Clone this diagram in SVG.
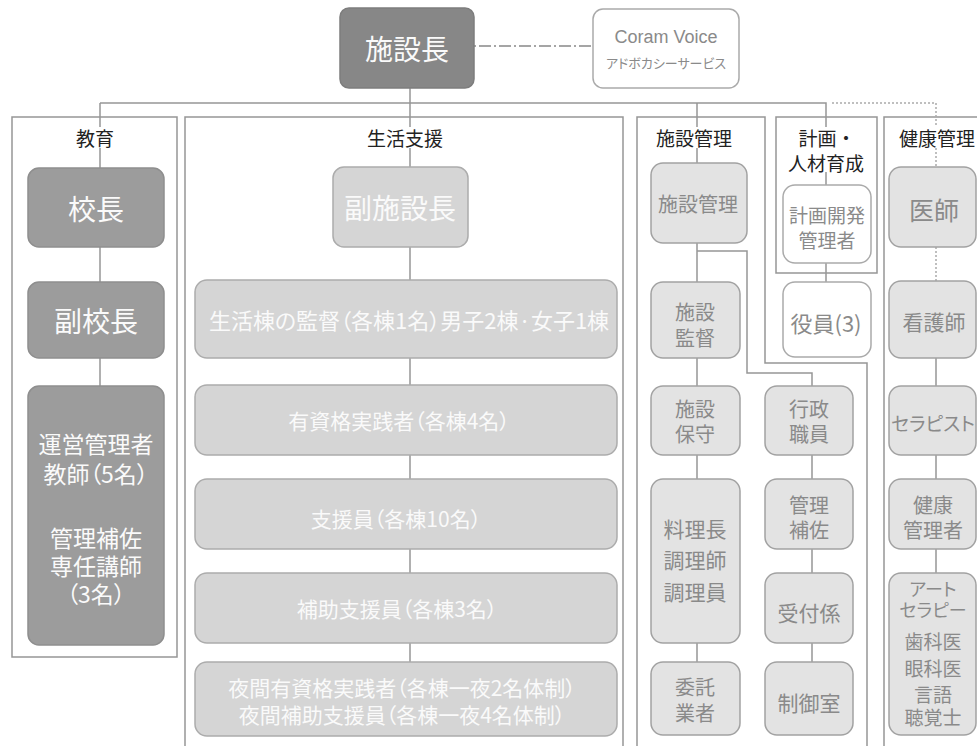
<svg xmlns="http://www.w3.org/2000/svg" width="977" height="746" viewBox="0 0 977 746">
<style>
text{font-family:"Noto Sans CJK JP","Noto Sans",sans-serif;text-anchor:middle;dominant-baseline:central;font-feature-settings:"palt"}
.ln{fill:none;stroke:#969696;stroke-width:1.5}
.dot{fill:none;stroke:#aaa;stroke-width:1.5;stroke-dasharray:2 2}
.dd{fill:none;stroke:#888;stroke-width:1.5;stroke-dasharray:2 3 12 3}
.sec{fill:none;stroke:#969696;stroke-width:1.5}
.lbl{font-size:19px;fill:#222}
.dk{fill:#878787;stroke:#7d7d7d}
.md{fill:#9c9c9c;stroke:#8e8e8e}
.lt{fill:#d5d5d5;stroke:#acacac}
.pl{fill:#e3e3e3;stroke:#a2a2a2}
.wh{fill:#fff;stroke:#aaa}
.tw{fill:#fafafa}
.tg{fill:#8a8a8a}
rect{stroke-width:1.5}
</style>
<rect x="0" y="0" width="977" height="746" fill="#fff" stroke="none"/>

<g id="sections">
  <rect class="sec" x="12" y="117" width="165" height="540"/>
  <path class="sec" d="M185 746 V117 H623 V746"/>
  <path class="sec" d="M637 746 V117 H765 V363 H867 V746"/>
  <rect class="sec" x="776" y="117" width="101" height="156"/>
  <path class="sec" d="M977 117 H884 V746"/>
  <text class="lbl" x="95" y="137">教育</text>
  <text class="lbl" x="405" y="137">生活支援</text>
  <text class="lbl" x="694" y="137">施設管理</text>
  <text class="lbl" x="827" y="137" style="font-feature-settings:normal">計画・</text>
  <text class="lbl" x="826" y="162">人材育成</text>
  <text class="lbl" x="937" y="137">健康管理</text>
</g>

<g id="connectors">
  <path class="dd" d="M474 46 H593"/>
  <path class="ln" d="M410 88 V127 M100 103 H826 V127 M100 103 V127 M697 103 V127"/>
  <path class="dot" d="M832 103 H936 V127 M936 148 V167 M936 247 V281"/>
  <path class="ln" d="M100 148 V168 M100 247 V282 M100 358 V386"/>
  <path class="ln" d="M410 148 V167 M410 247 V280 M410 358 V385 M410 455 V479 M410 549 V573 M410 643 V662"/>
  <path class="ln" d="M697 148 V163 M697 243 V282 M697 358 V386 M697 455 V479 M697 643 V662"/>
  <path class="ln" d="M697 251 H747 V373 H812 V386 M812 455 V479 M812 549 V573 M812 643 V662"/>
  <path class="ln" d="M826 172 V185 M826 263 V282"/>
  <path class="ln" d="M936 358 V386 M936 455 V479 M936 549 V573"/>
</g>

<g id="n-director">
  <rect class="dk" x="340" y="8" width="134" height="80" rx="9"/>
  <text class="tw" x="407" y="48" font-size="28">施設長</text>
</g>
<g id="n-coram">
  <rect class="wh" x="593" y="9" width="146" height="79" rx="10"/>
  <text class="tg" x="666" y="37" font-size="18" style="font-family:'Liberation Sans','Noto Sans',sans-serif">Coram Voice</text>
  <text class="tg" x="666" y="62" font-size="13">アドボカシーサービス</text>
</g>

<g id="n-principal">
  <rect class="md" x="28" y="168" width="136" height="79" rx="11"/>
  <text class="tw" x="96" y="208" font-size="28">校長</text>
</g>
<g id="n-vice-principal">
  <rect class="md" x="28" y="282" width="136" height="76" rx="11"/>
  <text class="tw" x="96" y="320" font-size="28">副校長</text>
</g>
<g id="n-teachers">
  <rect class="md" x="28" y="386" width="136" height="259" rx="11"/>
  <text class="tw" x="96" y="443" font-size="23">運営管理者</text>
  <text class="tw" x="96" y="473" font-size="23">教師（5名）</text>
  <text class="tw" x="96" y="537" font-size="23">管理補佐</text>
  <text class="tw" x="96" y="565" font-size="23">専任講師</text>
  <text class="tw" x="96" y="593" font-size="23">（3名）</text>
</g>

<g id="n-deputy">
  <rect class="lt" x="333" y="167" width="135" height="80" rx="11"/>
  <text class="tw" x="400" y="207" font-size="28">副施設長</text>
</g>
<g id="n-supervisor">
  <rect class="lt" x="195" y="280" width="422" height="78" rx="12"/>
  <text class="tw" x="409" y="319" font-size="22">生活棟の監督（各棟1名）男子2棟·女子1棟</text>
</g>
<g id="n-qualified">
  <rect class="lt" x="195" y="385" width="422" height="70" rx="12"/>
  <text class="tw" x="399" y="420" font-size="21">有資格実践者（各棟4名）</text>
</g>
<g id="n-support">
  <rect class="lt" x="195" y="479" width="422" height="70" rx="12"/>
  <text class="tw" x="396" y="518" font-size="21">支援員（各棟10名）</text>
</g>
<g id="n-assist">
  <rect class="lt" x="195" y="573" width="422" height="70" rx="12"/>
  <text class="tw" x="397" y="608" font-size="21">補助支援員（各棟3名）</text>
</g>
<g id="n-night">
  <rect class="lt" x="195" y="662" width="422" height="74" rx="12"/>
  <text class="tw" x="402" y="687" font-size="21">夜間有資格実践者（各棟一夜2名体制）</text>
  <text class="tw" x="402" y="714" font-size="21">夜間補助支援員（各棟一夜4名体制）</text>
</g>

<g id="n-facility-mgmt">
  <rect class="pl" x="651" y="163" width="96" height="80" rx="12"/>
  <text class="tg" x="698" y="203" font-size="20">施設管理</text>
</g>
<g id="n-facility-sup">
  <rect class="pl" x="651" y="282" width="89" height="76" rx="12"/>
  <text class="tg" x="695" y="311" font-size="20">施設</text>
  <text class="tg" x="695" y="337" font-size="20">監督</text>
</g>
<g id="n-facility-maint">
  <rect class="pl" x="651" y="386" width="89" height="69" rx="12"/>
  <text class="tg" x="695" y="408" font-size="20">施設</text>
  <text class="tg" x="695" y="433" font-size="20">保守</text>
</g>
<g id="n-cooks">
  <rect class="pl" x="651" y="479" width="89" height="164" rx="12"/>
  <text class="tg" x="695" y="528" font-size="21">料理長</text>
  <text class="tg" x="695" y="559" font-size="21">調理師</text>
  <text class="tg" x="695" y="591" font-size="21">調理員</text>
</g>
<g id="n-contractors">
  <rect class="pl" x="651" y="662" width="89" height="73" rx="12"/>
  <text class="tg" x="695" y="686" font-size="20">委託</text>
  <text class="tg" x="695" y="712" font-size="20">業者</text>
</g>
<g id="n-admin">
  <rect class="pl" x="765" y="386" width="88" height="69" rx="12"/>
  <text class="tg" x="809" y="408" font-size="20">行政</text>
  <text class="tg" x="809" y="433" font-size="20">職員</text>
</g>
<g id="n-admin-assist">
  <rect class="pl" x="765" y="479" width="88" height="70" rx="12"/>
  <text class="tg" x="809" y="504" font-size="20">管理</text>
  <text class="tg" x="809" y="529" font-size="20">補佐</text>
</g>
<g id="n-reception">
  <rect class="pl" x="765" y="573" width="88" height="70" rx="12"/>
  <text class="tg" x="809" y="612" font-size="21">受付係</text>
</g>
<g id="n-control">
  <rect class="pl" x="765" y="662" width="88" height="73" rx="12"/>
  <text class="tg" x="809" y="702" font-size="21">制御室</text>
</g>

<g id="n-planning">
  <rect class="wh" x="783" y="185" width="88" height="78" rx="12"/>
  <text class="tg" x="827" y="214" font-size="19">計画開発</text>
  <text class="tg" x="827" y="239" font-size="19">管理者</text>
</g>
<g id="n-officers">
  <rect class="wh" x="783" y="282" width="88" height="75" rx="12"/>
  <text class="tg" x="826" y="322" font-size="22">役員(3)</text>
</g>

<g id="n-doctor">
  <rect class="pl" x="889" y="167" width="87" height="80" rx="12"/>
  <text class="tg" x="934" y="209" font-size="25">医師</text>
</g>
<g id="n-nurse">
  <rect class="pl" x="889" y="281" width="87" height="77" rx="12"/>
  <text class="tg" x="934" y="321" font-size="21">看護師</text>
</g>
<g id="n-therapist">
  <rect class="pl" x="889" y="386" width="87" height="69" rx="12"/>
  <text class="tg" x="933" y="422" font-size="19">セラピスト</text>
</g>
<g id="n-health-mgr">
  <rect class="pl" x="889" y="479" width="87" height="70" rx="12"/>
  <text class="tg" x="933" y="504" font-size="20">健康</text>
  <text class="tg" x="933" y="529" font-size="20">管理者</text>
</g>
<g id="n-specialists">
  <rect class="pl" x="889" y="573" width="87" height="162" rx="12"/>
  <text class="tg" x="933" y="588" font-size="18">アート</text>
  <text class="tg" x="933" y="609" font-size="18">セラピー</text>
  <text class="tg" x="933" y="640" font-size="19">歯科医</text>
  <text class="tg" x="933" y="667" font-size="19">眼科医</text>
  <text class="tg" x="933" y="693" font-size="19">言語</text>
  <text class="tg" x="933" y="716" font-size="19">聴覚士</text>
</g>
</svg>
